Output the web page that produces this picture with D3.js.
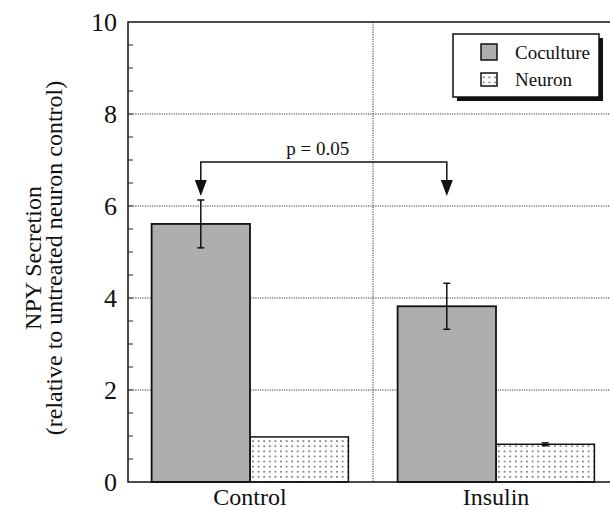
<!DOCTYPE html>
<meta charset="utf-8">
<script src="https://cdn.jsdelivr.net/npm/d3@7"></script>
<style>
body { margin: 0; background: #fff; }
.grid { stroke: #333; stroke-width: 1; stroke-dasharray: 1.2,1.2; }
</style>
<body>
<script>

// data
var categories = ["Control", "Insulin"];
var series = ["Coculture", "Neuron"];
var coculture = [5.61, 3.82];
var cocultureErr = [0.52, 0.50];
var neuron = [0.98, 0.82];
var neuronErr = [0, 0.03];
var yTicks = [0, 2, 4, 6, 8, 10];
var pLabel = "p = 0.05";

var width = 610, height = 510;
var margin = {top: 22, left: 128, bottom: 28};
var plotRight = 619;
var FONT = "'Liberation Serif', Tinos, Times, monospace";

var svg = d3.select("body").append("svg")
    .attr("width", width)
    .attr("height", height);

var defs = svg.append("defs");
var pat = defs.append("pattern")
    .attr("id", "dots")
    .attr("patternUnits", "userSpaceOnUse")
    .attr("width", 5.6)
    .attr("height", 5.1);
pat.append("rect").attr("width", 5.6).attr("height", 5.1).attr("fill", "#fff");
pat.append("circle").attr("cx", 2.8).attr("cy", 2.5).attr("r", 0.9).attr("fill", "#555");

var y = d3.scaleLinear()
    .domain([0, 10])
    .range([height - margin.bottom, margin.top]);

var x = d3.scaleBand()
    .domain(categories)
    .range([margin.left - 1, plotRight]);

var xSub = d3.scaleBand()
    .domain(series)
    .range([0, x.bandwidth()])
    .paddingOuter(0.25);

// gridlines
svg.append("g").selectAll("line")
    .data(yTicks.filter(function(d) { return d > 0 && d < 10; }))
    .enter().append("line")
    .attr("class", "grid")
    .attr("x1", margin.left).attr("x2", plotRight)
    .attr("y1", function(d) { return y(d); })
    .attr("y2", function(d) { return y(d); });

svg.append("line")
    .attr("class", "grid")
    .attr("x1", x("Insulin")).attr("x2", x("Insulin"))
    .attr("y1", y(10)).attr("y2", y(0));

// minor x ticks (inside)
var xMinor = [];
categories.forEach(function(c) {
  d3.range(1, 10).forEach(function(i) { xMinor.push(x(c) + i * x.bandwidth() / 10); });
});
svg.append("g").selectAll("line")
    .data(xMinor)
    .enter().append("line")
    .attr("x1", function(d) { return d; }).attr("x2", function(d) { return d; })
    .attr("y1", y(0)).attr("y2", y(0) - 4)
    .attr("stroke", "#222").attr("stroke-width", 1);

// bars
var groups = svg.append("g").selectAll("g")
    .data(categories)
    .enter().append("g")
    .attr("transform", function(d) { return "translate(" + x(d) + ",0)"; });

groups.append("rect")
    .attr("x", xSub("Neuron"))
    .attr("width", xSub.bandwidth())
    .attr("y", function(d, i) { return y(neuron[i]); })
    .attr("height", function(d, i) { return y(0) - y(neuron[i]); })
    .attr("fill", "url(#dots)")
    .attr("stroke", "#111").attr("stroke-width", 1.5);

groups.append("rect")
    .attr("x", xSub("Coculture"))
    .attr("width", xSub.bandwidth())
    .attr("y", function(d, i) { return y(coculture[i]); })
    .attr("height", function(d, i) { return y(0) - y(coculture[i]); })
    .attr("fill", "#aeaeae")
    .attr("stroke", "#111").attr("stroke-width", 1.8);

// error bars
function errorBar(sel, key, vals, errs) {
  var cx = xSub(key) + xSub.bandwidth() / 2;
  sel.each(function(d, i) {
    if (!errs[i]) return;
    var g = d3.select(this).append("g").attr("stroke", "#111").attr("stroke-width", 1.5);
    g.append("line").attr("x1", cx).attr("x2", cx)
      .attr("y1", y(vals[i] - errs[i])).attr("y2", y(vals[i] + errs[i]));
    [vals[i] - errs[i], vals[i] + errs[i]].forEach(function(v) {
      g.append("line").attr("x1", cx - 3.5).attr("x2", cx + 3.5)
        .attr("y1", y(v)).attr("y2", y(v));
    });
  });
}
errorBar(groups, "Coculture", coculture, cocultureErr);
errorBar(groups, "Neuron", neuron, neuronErr);

// frame
svg.append("path")
    .attr("d", "M" + plotRight + "," + y(10) + "H" + margin.left + "V" + y(0) + "H" + plotRight)
    .attr("fill", "none").attr("stroke", "#111").attr("stroke-width", 1.5);

// minor y ticks (inside)
svg.append("g").selectAll("line")
    .data(y.ticks(20).filter(function(d) { return d > 0 && d < 10; }))
    .enter().append("line")
    .attr("x1", margin.left).attr("x2", margin.left + 5)
    .attr("y1", function(d) { return y(d); })
    .attr("y2", function(d) { return y(d); })
    .attr("stroke", "#222").attr("stroke-width", 1);

// y tick labels
svg.append("g").selectAll("text")
    .data(yTicks)
    .enter().append("text")
    .attr("x", 117)
    .attr("y", function(d) { return y(d) + 9; })
    .attr("text-anchor", "end")
    .style("font-family", FONT)
    .style("font-size", "26px")
    .style("fill", "#111")
    .text(function(d) { return d; });

// x labels
svg.append("g").selectAll("text")
    .data(categories)
    .enter().append("text")
    .attr("x", function(d) { return x(d) + x.bandwidth() / 2; })
    .attr("y", 505)
    .attr("text-anchor", "middle")
    .style("font-family", FONT)
    .style("font-size", "24px")
    .style("fill", "#111")
    .text(function(d) { return d; });

// y title
var yt = svg.append("text")
    .attr("transform", "translate(0,258) rotate(-90)")
    .attr("text-anchor", "middle")
    .style("font-family", FONT)
    .style("font-size", "24px")
    .style("fill", "#111");
yt.append("tspan").attr("x", 0).attr("y", 41).text("NPY Secretion");
yt.append("tspan").attr("x", 0).attr("y", 62).text("(relative to untreated neuron control)");

// significance bracket
var xa = x("Control") + xSub("Coculture") + xSub.bandwidth() / 2;
var xb = x("Insulin") + xSub("Coculture") + xSub.bandwidth() / 2;
var by = 162;
svg.append("path")
    .attr("d", "M" + xa + ",181V" + by + "H" + xb + "V181")
    .attr("fill", "none").attr("stroke", "#111").attr("stroke-width", 1.5);
[xa, xb].forEach(function(px) {
  svg.append("path")
      .attr("d", "M" + (px - 6) + ",180L" + (px + 6) + ",180L" + px + ",196Z")
      .attr("fill", "#111");
});
svg.append("text")
    .attr("x", (xa + xb) / 2 - 6)
    .attr("y", 155)
    .attr("text-anchor", "middle")
    .style("font-family", FONT)
    .style("font-size", "19px")
    .style("fill", "#111")
    .text(pLabel);

// legend
var lg = svg.append("g").attr("transform", "translate(453,34)");
lg.append("rect").attr("x", 4).attr("y", 4).attr("width", 146).attr("height", 63).attr("fill", "#111");
lg.append("rect").attr("width", 146).attr("height", 63)
    .attr("fill", "#fff").attr("stroke", "#111").attr("stroke-width", 1.5);
var fills = {"Coculture": "#aeaeae", "Neuron": "url(#dots)"};
series.forEach(function(s, i) {
  lg.append("rect")
      .attr("x", 28).attr("y", 10 + i * 29)
      .attr("width", 16).attr("height", i === 0 ? 16 : 13)
      .attr("fill", fills[s]).attr("stroke", "#111").attr("stroke-width", 1.5);
  lg.append("text")
      .attr("x", 62).attr("y", 25 + i * 27)
      .style("font-family", FONT)
      .style("font-size", "19px")
      .style("fill", "#111")
      .text(s);
});

</script>
</body>
